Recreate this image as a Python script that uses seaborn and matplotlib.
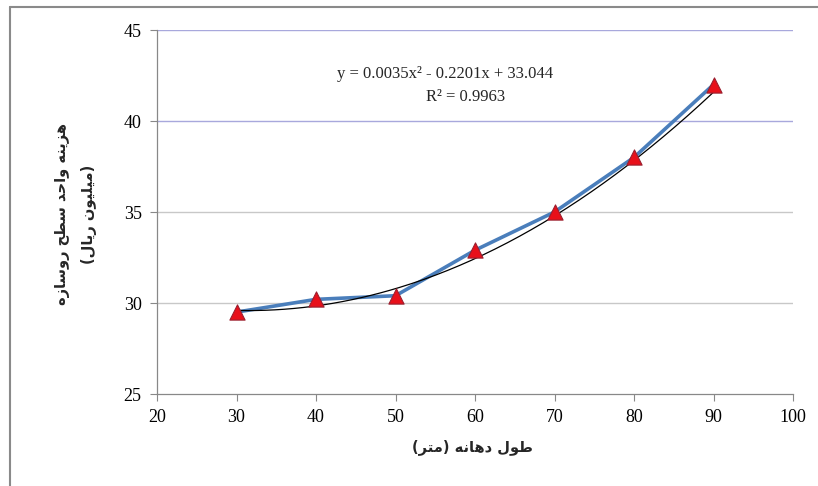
import numpy as np
import pandas as pd
import matplotlib
matplotlib.use("Agg")
import matplotlib.pyplot as plt
import seaborn as sns
from matplotlib.lines import Line2D

# Span length (m) and unit cost of deck surface (million rials)
span_length = [30, 40, 50, 60, 70, 80, 90]
unit_cost = [29.5, 30.2, 30.4, 32.9, 35.0, 38.0, 42.0]

# Fitted quadratic trend
trend_coef = [0.0035, -0.2201, 33.044]
r_squared = 0.9963

x_ticks = [20, 30, 40, 50, 60, 70, 80, 90, 100]
y_ticks = [25, 30, 35, 40, 45]

y_label_line1 = "هزینه واحد سطح روسازه"
y_label_line2 = "(میلیون ریال)"
x_label = "طول دهانه (متر)"

# --- minimal Arabic-script shaping (matplotlib has no complex text layout) ---
# forms: isolated, final, initial, medial (None -> letter does not join forward)
FORMS = {
    "ا": ("\uFE8D", "\uFE8E", None, None),
    "ت": ("\uFE95", "\uFE96", "\uFE97", "\uFE98"),
    "ح": ("\uFEA1", "\uFEA2", "\uFEA3", "\uFEA4"),
    "د": ("\uFEA9", "\uFEAA", None, None),
    "ر": ("\uFEAD", "\uFEAE", None, None),
    "ز": ("\uFEAF", "\uFEB0", None, None),
    "س": ("\uFEB1", "\uFEB2", "\uFEB3", "\uFEB4"),
    "ط": ("\uFEC1", "\uFEC2", "\uFEC3", "\uFEC4"),
    "ل": ("\uFEDD", "\uFEDE", "\uFEDF", "\uFEE0"),
    "م": ("\uFEE1", "\uFEE2", "\uFEE3", "\uFEE4"),
    "ن": ("\uFEE5", "\uFEE6", "\uFEE7", "\uFEE8"),
    "ه": ("\uFEE9", "\uFEEA", "\uFEEB", "\uFEEC"),
    "و": ("\uFEED", "\uFEEE", None, None),
    "ی": ("\uFBFC", "\uFBFD", "\uFEF3", "\uFEF4"),
}
MIRROR = {"(": ")", ")": "("}


def shape(text):
    out = []
    n = len(text)
    for i, ch in enumerate(text):
        if ch not in FORMS:
            out.append(MIRROR.get(ch, ch))
            continue
        prev = text[i - 1] if i > 0 else ""
        nxt = text[i + 1] if i + 1 < n else ""
        joins_prev = prev in FORMS and FORMS[prev][2] is not None
        joins_next = nxt in FORMS and FORMS[ch][2] is not None
        iso, fin, ini, med = FORMS[ch]
        if joins_prev and joins_next:
            out.append(med)
        elif joins_prev:
            out.append(fin)
        elif joins_next:
            out.append(ini)
        else:
            out.append(iso)
    return "".join(reversed(out))


df = pd.DataFrame({"span": span_length, "cost": unit_cost})

fig = plt.figure(figsize=(8.18, 4.86), dpi=100)
fig.patch.set_facecolor("white")
ax = fig.add_axes([157 / 818, 1 - 394 / 486, (793 - 157) / 818, (394 - 30) / 486])
sns.set_style("white")

serif = "Liberation Serif"
persian = "DejaVu Sans"

# horizontal gridlines
grid_colors = {30: "#c8c8c8", 35: "#c8c8c8", 40: "#a8a8dc", 45: "#a8a8dc"}
for yv, c in grid_colors.items():
    ax.axhline(yv, color=c, lw=1.0, zorder=0)

sns.lineplot(data=df, x="span", y="cost", ax=ax, color="#4a7ebb", lw=2.6,
             zorder=2, legend=False)

xs = np.linspace(span_length[0], span_length[-1], 200)
ax.plot(xs, np.polyval(trend_coef, xs), color="black", lw=0.9, zorder=3)

sns.scatterplot(data=df, x="span", y="cost", ax=ax, marker="^", s=120,
                color="#e8101a", edgecolor="#9a2030", linewidth=0.8,
                zorder=4, legend=False)

ax.set_xlim(20, 100)
ax.set_ylim(25, 45)
ax.set_xticks(x_ticks)
ax.set_yticks(y_ticks)
ax.tick_params(axis="both", direction="out", length=5, width=0.8,
               color="#888888", labelsize=13, pad=6)
for lab in ax.get_xticklabels() + ax.get_yticklabels():
    lab.set_fontfamily(serif)
for side in ["top", "right"]:
    ax.spines[side].set_visible(False)
for side in ["left", "bottom"]:
    ax.spines[side].set_color("#888888")
    ax.spines[side].set_linewidth(0.9)
ax.set_xlabel("")
ax.set_ylabel("")

sign = "-" if trend_coef[1] < 0 else "+"
eq = (f"y = {trend_coef[0]:.4f}x\u00b2 {sign} {abs(trend_coef[1]):.4f}x + "
      f"{trend_coef[2]:.3f}")
fig.text(445 / 818, 1 - 74 / 486, eq, fontsize=12, family=serif,
         ha="center", va="center")
fig.text(466 / 818, 1 - 97 / 486, f"R\u00b2 = {r_squared:.4f}", fontsize=12,
         family=serif, ha="center", va="center")

fig.text(62 / 818, 1 - 214 / 486, shape(y_label_line1), rotation=90,
         fontsize=10.5, family=persian, fontweight="bold",
         ha="center", va="center")
fig.text(89 / 818, 1 - 214 / 486, shape(y_label_line2), rotation=90,
         fontsize=10.5, family=persian, fontweight="bold",
         ha="center", va="center")
fig.text(472 / 818, 1 - 447 / 486, shape(x_label), fontsize=10.5,
         family=persian, fontweight="bold", ha="center", va="center")

# chart frame (left and top edges)
fig.add_artist(Line2D([10 / 818, 10 / 818], [0, 1 - 7 / 486],
                      transform=fig.transFigure, color="#8a8a8a", lw=1.5))
fig.add_artist(Line2D([10 / 818, 1], [1 - 7 / 486, 1 - 7 / 486],
                      transform=fig.transFigure, color="#8a8a8a", lw=1.5))

fig.savefig("out.png", dpi=100, facecolor="white")
